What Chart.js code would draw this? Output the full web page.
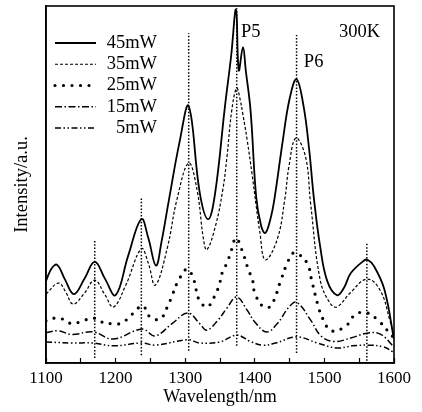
<!DOCTYPE html>
<html>
<head>
<meta charset="utf-8">
<script src="https://cdn.jsdelivr.net/npm/chart.js@4.4.0/dist/chart.umd.min.js"></script>
<style>
  html, body { margin: 0; padding: 0; background: #fff; }
  #wrap { width: 422px; height: 412px; }
</style>
</head>
<body>
<div id="wrap"><canvas id="spectrum" width="422" height="412"></canvas></div>
<script>
// Series (intensity in arbitrary units, 0-100 of the plot height)
const labels = ['45mW', '35mW', '25mW', '15mW', '5mW'];

const wl45 = [1100, 1108, 1116, 1127, 1140, 1155, 1170, 1185, 1200, 1218, 1237, 1247, 1258, 1266, 1276, 1292, 1305, 1321, 1333, 1343, 1357, 1366, 1373, 1377, 1383, 1387, 1394, 1402, 1409, 1415, 1422, 1428, 1440, 1450, 1460, 1470, 1478, 1485, 1494, 1504, 1518, 1528, 1538, 1557, 1562, 1571, 1586, 1600];
const int45 = [23, 26.5, 27.5, 23.5, 19.3, 23.5, 28.3, 23.5, 19, 30, 40.3, 35, 27.3, 34, 45, 62, 72, 47.6, 40.3, 47.6, 71.7, 86, 99, 82, 88.5, 82, 70.5, 46.5, 38.5, 36.4, 40, 45.7, 62, 74, 79.5, 72, 60, 46, 32.5, 23, 19, 21, 25.2, 28.7, 28.9, 27.2, 20.7, 6.7];

const wl35 = [1100, 1118, 1128, 1139, 1155, 1170, 1185, 1197, 1215, 1237, 1247, 1257, 1274, 1288, 1305, 1317, 1326, 1331, 1343, 1354, 1360, 1367, 1374, 1379, 1383, 1389, 1396, 1402, 1407, 1415, 1432, 1443, 1449, 1459, 1473, 1480, 1494, 1508, 1518, 1537, 1561, 1580, 1594, 1600];
const int35 = [19.3, 22.4, 20, 16.5, 19.5, 23.2, 19, 15.7, 22, 32, 28, 21.8, 32, 45.7, 56, 48.5, 35, 31.7, 38, 48.5, 57.7, 70.9, 77, 73.7, 69.5, 62.5, 53, 44, 37, 28.9, 34.5, 45.7, 55, 63, 57.7, 45, 23.2, 16.8, 15.7, 19.6, 23.5, 20.4, 12, 7];

const wl25 = [1100, 1113, 1124, 1137, 1149, 1168, 1180, 1195, 1209, 1224, 1239, 1249, 1264, 1275, 1282, 1290, 1303, 1314, 1318, 1331, 1343, 1350, 1354, 1360, 1366, 1373, 1382, 1390, 1397, 1400, 1412, 1423, 1438, 1445, 1455, 1463, 1476, 1481, 1491, 1498, 1510, 1531, 1545, 1562, 1578, 1591, 1600];
const int25 = [11.8, 12.6, 12.3, 11, 11.5, 12.6, 11.5, 11, 11.2, 13.7, 16, 13, 12.3, 16, 19.3, 23, 26.3, 22.4, 18.5, 15.7, 19, 22.7, 25.8, 28, 31.4, 35, 31.4, 26.6, 23, 19.6, 15.8, 16, 23.5, 27.2, 30.8, 30.5, 27.7, 23.8, 16, 12.3, 9, 10.4, 13.7, 14, 11.8, 9, 7];

const wl15 = [1100, 1117, 1137, 1168, 1196, 1238, 1257, 1282, 1304, 1321, 1331, 1347, 1360, 1374, 1389, 1400, 1417, 1433, 1448, 1460, 1481, 1495, 1514, 1538, 1563, 1581, 1600];
const int15 = [8.5, 9, 8, 8.7, 6.7, 9.5, 7.6, 11.2, 14, 11, 9.2, 12, 15.4, 18.5, 14.8, 11.5, 8.7, 11.2, 15.4, 17, 11.8, 7.6, 6, 7, 8.4, 8, 4.5];

const wl5 = [1100, 1137, 1168, 1197, 1238, 1257, 1304, 1321, 1350, 1374, 1394, 1411, 1430, 1460, 1490, 1518, 1540, 1563, 1585, 1600];
const int5 = [5.9, 5.6, 5.6, 4.8, 5.6, 5, 6.5, 5.6, 5.9, 7.8, 6, 5, 5.6, 7.3, 5.6, 4.2, 4.8, 5, 4.5, 3];

// dotted guide lines at the peak positions
const peakWl = [1170, 1237, 1305, 1374, 1460, 1561];
const peakTop = [34.2, 46.2, 92.4, 99.4, 91.9, 33.6];
const peakBottom = [1.4, 2.2, 3.4, 4.8, 2.8, 0.6];

// text marks: label, wavelength, intensity
const noteText = ['P5', 'P6', '300K'];
const noteWl = [1380, 1470.5, 1521];
const noteInt = [92.7, 84.3, 92.7];

const FONT = '"Liberation Serif", "Times New Roman", serif';

const toPoints = (xs, ys) => xs.map((x, i) => ({ x: x, y: ys[i] }));

const lineStyles = [
  { borderWidth: 1.8, borderDash: [] },
  { borderWidth: 1.2, borderDash: [3, 2] },
  { borderWidth: 3.2, borderDash: [0, 8.5], borderCapStyle: 'round' },
  { borderWidth: 1.5, borderDash: [7, 2.5, 1.5, 2.5] },
  { borderWidth: 1.5, borderDash: [6, 2.5, 1.5, 2.5, 1.5, 2.5] }
];

const series = [[wl45, int45], [wl35, int35], [wl25, int25], [wl15, int15], [wl5, int5]];

const datasets = series.map((s, i) => Object.assign({
  label: labels[i],
  data: toPoints(s[0], s[1]),
  borderColor: '#000',
  tension: 0.4,
  pointRadius: 0,
  fill: false
}, lineStyles[i]));

peakWl.forEach((w, i) => {
  datasets.push({
    label: '',
    data: [{ x: w, y: peakBottom[i] }, { x: w, y: peakTop[i] }],
    borderColor: '#000',
    borderWidth: 1.5,
    borderDash: [1.5, 1.8],
    pointRadius: 0
  });
});

// legend drawn by hand so the labels can sit right-aligned like the figure
const sampleLegend = {
  id: 'sampleLegend',
  afterDatasetsDraw(chart) {
    const ctx = chart.ctx;
    ctx.save();
    ctx.font = '18.5px ' + FONT;
    ctx.fillStyle = '#000';
    ctx.textAlign = 'right';
    ctx.textBaseline = 'middle';
    labels.forEach((label, i) => {
      const ds = chart.data.datasets[i];
      const y = 43 + i * 21.25;
      ctx.beginPath();
      ctx.setLineDash(ds.borderDash);
      ctx.lineCap = ds.borderCapStyle || 'butt';
      ctx.lineWidth = ds.borderWidth;
      ctx.strokeStyle = '#000';
      ctx.moveTo(55, y);
      ctx.lineTo(96, y);
      ctx.stroke();
      ctx.fillText(label, 157, y);
    });
    ctx.restore();
  }
};

const notes = {
  id: 'notes',
  afterDatasetsDraw(chart) {
    const { ctx, scales } = chart;
    ctx.save();
    ctx.font = '18.5px ' + FONT;
    ctx.fillStyle = '#000';
    ctx.textAlign = 'left';
    ctx.textBaseline = 'middle';
    noteText.forEach((t, i) => {
      ctx.fillText(t, scales.x.getPixelForValue(noteWl[i]), scales.y.getPixelForValue(noteInt[i]));
    });
    ctx.restore();
  }
};

const frame = {
  id: 'frame',
  afterDraw(chart) {
    const { ctx, chartArea } = chart;
    ctx.save();
    ctx.strokeStyle = '#000';
    ctx.lineWidth = 1.6;
    ctx.strokeRect(chartArea.left, chartArea.top, chartArea.right - chartArea.left, chartArea.bottom - chartArea.top);
    ctx.restore();
  }
};

new Chart(document.getElementById('spectrum'), {
  type: 'line',
  data: { datasets: datasets },
  options: {
    responsive: false,
    animation: false,
    layout: { padding: { top: 6, right: 28, left: 0, bottom: 0 } },
    plugins: {
      legend: { display: false },
      tooltip: { enabled: false }
    },
    scales: {
      x: {
        type: 'linear',
        min: 1100,
        max: 1600,
        ticks: {
          stepSize: 50,
          autoSkip: false,
          maxRotation: 0,
          padding: 10,
          color: '#000',
          font: { family: FONT, size: 17 },
          callback: v => (v % 100 === 0 ? v : '')
        },
        grid: { drawOnChartArea: false, tickLength: -5, tickColor: '#000', tickWidth: 1.2 },
        border: { color: '#000', width: 1.6 },
        title: { display: true, text: 'Wavelength/nm', color: '#000', font: { family: FONT, size: 18 } },
        afterFit: s => { s.height = 49; }
      },
      y: {
        min: 0,
        max: 100,
        ticks: { display: false },
        grid: { display: false },
        border: { color: '#000', width: 1.6 },
        title: { display: true, text: 'Intensity/a.u.', color: '#000', font: { family: FONT, size: 18.5 }, padding: { top: 11, bottom: 4 } },
        afterFit: s => { s.width = 46; }
      }
    }
  },
  plugins: [sampleLegend, notes, frame]
});
</script>
</body>
</html>
